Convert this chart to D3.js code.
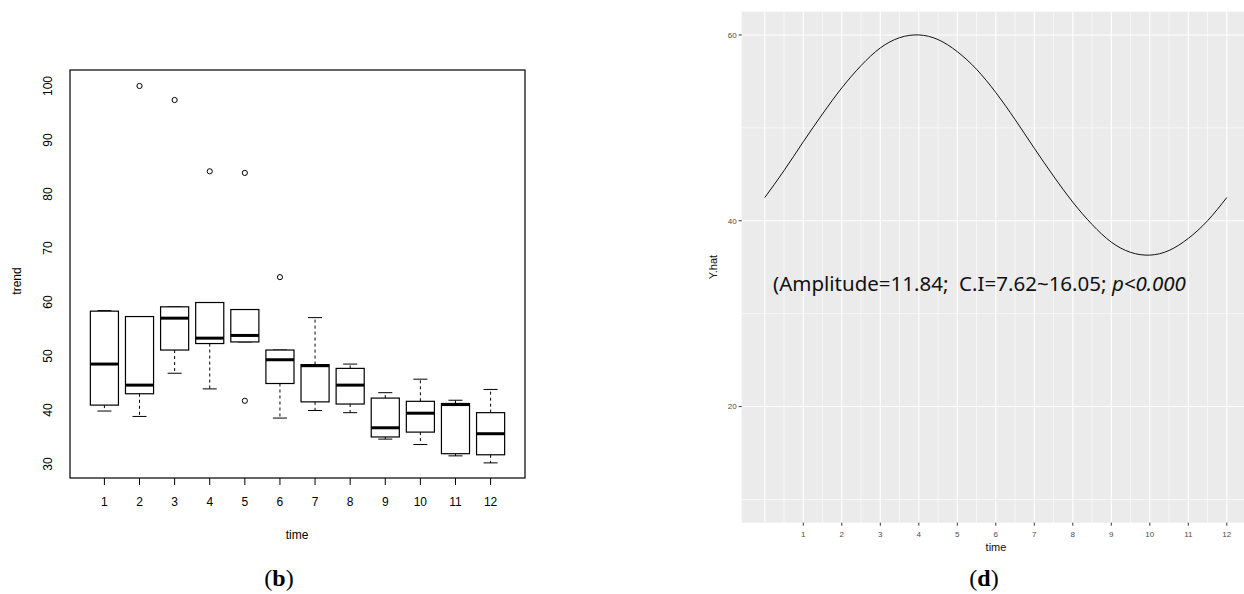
<!DOCTYPE html>
<html><head><meta charset="utf-8">
<script src="https://cdn.jsdelivr.net/npm/d3@7"></script>
<style>body{margin:0;background:#fff}svg{display:block}</style>
</head><body>
<svg id="c" width="1244" height="594"></svg>
<script>
// ---- Panel (b): boxplot data ----
const months = [1,2,3,4,5,6,7,8,9,10,11,12];
const whiskerLow  = [39.8, 38.8, 46.8, 43.9, 52.6, 38.5, 39.9, 39.5, 34.6, 33.6, 31.5, 30.2];
const q1          = [40.9, 43.0, 51.1, 52.3, 52.6, 44.9, 41.5, 41.1, 35.0, 35.9, 31.9, 31.7];
const medians     = [48.5, 44.6, 57.0, 53.3, 53.8, 49.3, 48.2, 44.6, 36.7, 39.4, 41.0, 35.6];
const q3          = [58.3, 57.3, 59.1, 59.9, 58.6, 51.1, 48.4, 47.7, 42.2, 41.6, 41.2, 39.5];
const whiskerHigh = [58.4, 57.3, 59.1, 59.9, 58.6, 51.1, 57.1, 48.5, 43.2, 45.7, 41.8, 43.8];
const outlierTime  = [2, 3, 4, 5, 5, 6];
const outlierValue = [100, 97.4, 84.2, 83.9, 41.7, 64.6];
const trendTicks = [30,40,50,60,70,80,90,100];

// ---- Panel (d): fitted cosinor curve ----
const curveTime = [0,0.5,1,1.5,2,2.5,3,3.5,4,4.5,5,5.5,6,6.5,7,7.5,8,8.5,9,9.5,10,10.5,11,11.5,12];
const curveYhat = [42.5,45.4,48.5,51.5,54.3,56.7,58.6,59.7,60.0,59.5,58.2,56.3,53.8,50.9,47.8,44.8,42.0,39.6,37.7,36.6,36.3,36.8,38.1,40.0,42.5];
const yhatTicks = [20,40,60];
const yhatMinor = [10,30,50];
const timeTicks = [1,2,3,4,5,6,7,8,9,10,11,12];
const timeGrid = d3.range(0, 12.01, 0.5);

const svg = d3.select("#c");

// ================= LEFT PANEL =================
const L = {left:70, right:525, top:70, bottom:478};
const xL = d3.scaleLinear().domain([0.02, 12.98]).range([L.left, L.right]);
const yL = d3.scaleLinear().domain([27.4, 102.96]).range([L.bottom, L.top]);
const gL = svg.append("g");
const bw = xL(1.4) - xL(1);   // half box width (0.4 units)
const cw = bw/2;

months.forEach((m,i)=>{
  const cx = xL(m);
  if (whiskerHigh[i] > q3[i])
    gL.append("line").attr("x1",cx).attr("x2",cx).attr("y1",yL(q3[i])).attr("y2",yL(whiskerHigh[i]))
      .attr("stroke","#000").attr("stroke-dasharray","3,3");
  if (whiskerLow[i] < q1[i])
    gL.append("line").attr("x1",cx).attr("x2",cx).attr("y1",yL(q1[i])).attr("y2",yL(whiskerLow[i]))
      .attr("stroke","#000").attr("stroke-dasharray","3,3");
  gL.append("line").attr("x1",cx-cw).attr("x2",cx+cw).attr("y1",yL(whiskerHigh[i])).attr("y2",yL(whiskerHigh[i])).attr("stroke","#000");
  gL.append("line").attr("x1",cx-cw).attr("x2",cx+cw).attr("y1",yL(whiskerLow[i])).attr("y2",yL(whiskerLow[i])).attr("stroke","#000");
  gL.append("rect").attr("x",cx-bw).attr("width",2*bw)
    .attr("y",yL(q3[i])).attr("height",yL(q1[i])-yL(q3[i]))
    .attr("fill","#fff").attr("stroke","#000").attr("stroke-width",1.2);
  gL.append("line").attr("x1",cx-bw).attr("x2",cx+bw).attr("y1",yL(medians[i])).attr("y2",yL(medians[i]))
    .attr("stroke","#000").attr("stroke-width",3);
});
outlierTime.forEach((t,i)=>{
  gL.append("circle").attr("cx",xL(t)).attr("cy",yL(outlierValue[i])).attr("r",2.6)
    .attr("fill","none").attr("stroke","#000").attr("stroke-width",1);
});
gL.append("rect").attr("x",L.left).attr("y",L.top).attr("width",L.right-L.left).attr("height",L.bottom-L.top)
  .attr("fill","none").attr("stroke","#000").attr("stroke-width",1.2);
months.forEach(m=>{
  gL.append("line").attr("x1",xL(m)).attr("x2",xL(m)).attr("y1",L.bottom).attr("y2",L.bottom+7).attr("stroke","#000");
  gL.append("text").attr("x",xL(m)).attr("y",L.bottom+28).attr("text-anchor","middle")
    .attr("font-family","Liberation Sans, Arial, sans-serif").attr("font-size",12).text(m);
});
trendTicks.forEach(v=>{
  gL.append("text").attr("transform",`translate(${51.5},${yL(v)}) rotate(-90)`).attr("text-anchor","middle")
    .attr("font-family","Liberation Sans, Arial, sans-serif").attr("font-size",12).text(v);
});
gL.append("text").attr("x",297).attr("y",539).attr("text-anchor","middle")
  .attr("font-family","Liberation Sans, Arial, sans-serif").attr("font-size",12).text("time");
gL.append("text").attr("transform","translate(21,281) rotate(-90)").attr("text-anchor","middle")
  .attr("font-family","Liberation Sans, Arial, sans-serif").attr("font-size",12).text("trend");

// ================= RIGHT PANEL =================
const R = {left:741.7, right:1249.9, top:11.7, bottom:522.7};
const xR = d3.scaleLinear().domain([-0.6, 12.6]).range([R.left, R.right]);
const yR = d3.scaleLinear().domain([7.5, 62.5]).range([R.bottom, R.top]);
const gR = svg.append("g");
gR.append("rect").attr("x",R.left).attr("y",R.top).attr("width",R.right-R.left).attr("height",R.bottom-R.top).attr("fill","#EBEBEB");
yhatMinor.forEach(v=>gR.append("line").attr("x1",R.left).attr("x2",R.right).attr("y1",yR(v)).attr("y2",yR(v)).attr("stroke","#fff").attr("stroke-width",0.6));
timeGrid.forEach(v=>gR.append("line").attr("x1",xR(v)).attr("x2",xR(v)).attr("y1",R.top).attr("y2",R.bottom).attr("stroke","#fff").attr("stroke-width",Number.isInteger(v)?1.1:0.6));
yhatTicks.forEach(v=>gR.append("line").attr("x1",R.left).attr("x2",R.right).attr("y1",yR(v)).attr("y2",yR(v)).attr("stroke","#fff").attr("stroke-width",1.1));

const line = d3.line().x((d,i)=>xR(curveTime[i])).y(d=>yR(d)).curve(d3.curveNatural);
gR.append("path").attr("d",line(curveYhat)).attr("fill","none").attr("stroke","#111").attr("stroke-width",1);

yhatTicks.forEach(v=>{
  gR.append("line").attr("x1",R.left-3).attr("x2",R.left).attr("y1",yR(v)).attr("y2",yR(v)).attr("stroke","#333");
  gR.append("text").attr("x",R.left-5).attr("y",yR(v)).attr("dy","0.35em").attr("text-anchor","end")
    .attr("font-family","Liberation Sans, Arial, sans-serif").attr("font-size",8).attr("fill","#4D4D4D").text(v);
});
timeTicks.forEach(v=>{
  gR.append("line").attr("x1",xR(v)).attr("x2",xR(v)).attr("y1",R.bottom).attr("y2",R.bottom+3).attr("stroke","#333");
  gR.append("text").attr("x",xR(v)).attr("y",R.bottom+14).attr("text-anchor","middle")
    .attr("font-family","Liberation Sans, Arial, sans-serif").attr("font-size",8).attr("fill","#4D4D4D").text(v);
});
gR.append("text").attr("x",996).attr("y",551).attr("text-anchor","middle")
  .attr("font-family","Liberation Sans, Arial, sans-serif").attr("font-size",11).attr("fill","#111").text("time");
gR.append("text").attr("transform","translate(717,267) rotate(-90)").attr("text-anchor","middle")
  .attr("font-family","Liberation Sans, Arial, sans-serif").attr("font-size",11).attr("fill","#111").text("Y.hat");

const ann = gR.append("text").attr("x",773).attr("y",291).attr("font-family","Noto Sans, sans-serif")
  .attr("font-size",20.5).attr("fill","#111").style("white-space","pre");
ann.append("tspan").text("(Amplitude=11.84;  C.I=7.62~16.05; ");
ann.append("tspan").attr("font-style","italic").text("p<0.000");

// panel labels
[["b",279],["d",984]].forEach(([l,x])=>{
  const t = svg.append("text").attr("x",x).attr("y",586).attr("text-anchor","middle")
    .attr("font-family","Liberation Serif, Times New Roman, serif").attr("font-size",24).attr("fill","#000");
  t.append("tspan").text("(");
  t.append("tspan").attr("font-weight","bold").text(l);
  t.append("tspan").text(")");
});
</script>
</body></html>
